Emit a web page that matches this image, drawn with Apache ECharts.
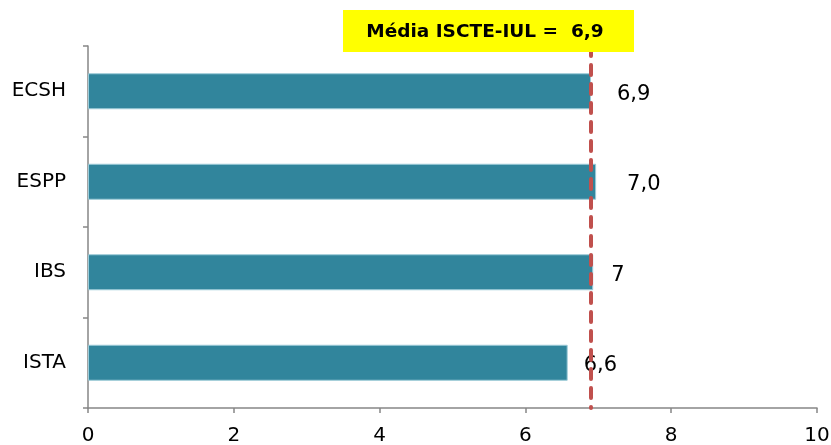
<!DOCTYPE html>
<html>
<head>
<meta charset="utf-8">
<script src="https://cdn.jsdelivr.net/npm/echarts@6/dist/echarts.min.js"></script>
<style>
  html, body { margin: 0; padding: 0; background: #fff; }
  #chart { width: 831px; height: 445px; }
</style>
</head>
<body>
<div id="chart"></div>
<script>
// dados do gráfico
const categories = ['ECSH', 'ESPP', 'IBS', 'ISTA'];
const values = [6.9, 6.97, 6.93, 6.58];
const valueLabels = ['6,9', '7,0', '7', '6,6'];
const xTicks = [0, 2, 4, 6, 8, 10];
const meanValue = 6.9;
const meanText = 'Média ISCTE-IUL =  6,9';

// afastamento de cada rótulo em relação à barra
const labelGaps = [26, 31, 18, 16];

const axisGray = '#868686';
const font = 'DejaVu Sans, Verdana, sans-serif';

const chart = echarts.init(document.getElementById('chart'));

const option = {
  animation: false,
  grid: { left: 88, right: 14, top: 46, bottom: 37, outerBoundsMode: 'none', containLabel: false },
  xAxis: {
    type: 'value',
    min: xTicks[0],
    max: xTicks[xTicks.length - 1],
    interval: 2,
    axisLine: { show: true, lineStyle: { color: axisGray, width: 1.5 } },
    axisTick: { show: true, length: 5, lineStyle: { color: axisGray, width: 1.5 } },
    splitLine: { show: false },
    axisLabel: { color: '#000', fontSize: 20, fontFamily: font, margin: 18, lineHeight: 20 },
  },
  yAxis: {
    type: 'category',
    data: categories,
    inverse: true,
    axisLine: { show: true, lineStyle: { color: axisGray, width: 1.5 } },
    axisTick: { show: true, length: 5, inside: false, lineStyle: { color: axisGray, width: 1.5 } },
    axisLabel: { color: '#000', fontSize: 20, fontFamily: font, margin: 22 },
  },
  series: [
    {
      type: 'bar',
      barWidth: 36,
      data: values.map((v, i) => ({
        value: v,
        label: {
          show: true,
          position: 'right',
          distance: labelGaps[i],
          formatter: valueLabels[i],
          color: '#000',
          fontSize: 21,
          fontFamily: font,
          offset: [0, 3],
        },
      })),
      itemStyle: {
        color: '#31859C',
        borderColor: '#9ccbd8',
        borderWidth: 1,
      },
      markLine: {
        silent: true,
        symbol: 'none',
        label: { show: false },
        lineStyle: {
          color: '#C0504D',
          width: 4,
          type: [10, 9],
          cap: 'round',
        },
        data: [{ xAxis: meanValue }],
        z: 5,
      },
    },
  ],
  graphic: [
    {
      type: 'rect',
      left: 343,
      top: 10,
      shape: { width: 291, height: 42 },
      style: { fill: '#FFFF00' },
      z: 10,
    },
    {
      type: 'text',
      x: 485,
      y: 32,
      style: {
        text: meanText,
        fill: '#000',
        font: 'bold 18.5px ' + font,
        align: 'center',
        verticalAlign: 'middle',
      },
      z: 11,
    },
  ],
};

chart.setOption(option);
</script>
</body>
</html>
